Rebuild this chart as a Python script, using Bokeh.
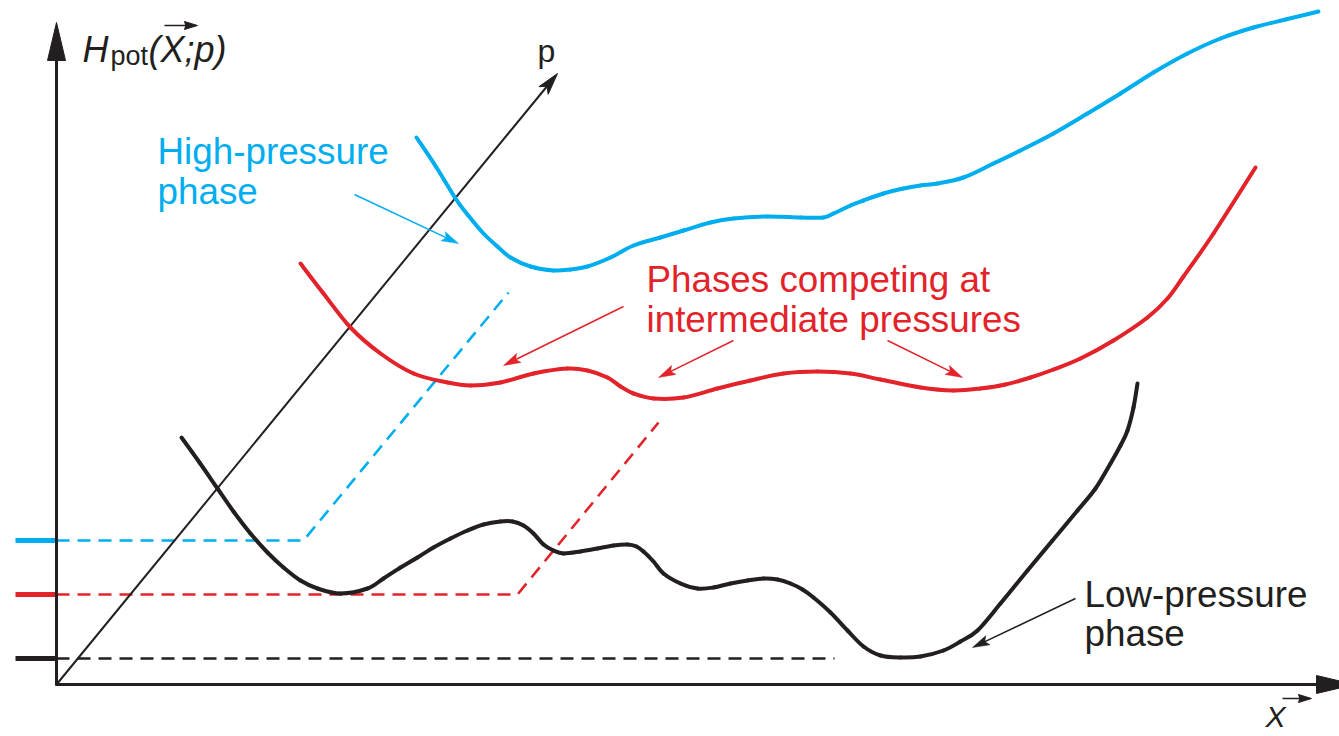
import numpy as np
from bokeh.plotting import figure
from bokeh.models import Range1d
from bokeh.embed import file_html
from bokeh.resources import INLINE
from bokeh.core.properties import value

# ---------------- data (page pixels, y grows downward) -------------
# high-pressure phase enthalpy landscape
blue_x = [416, 436, 455, 467, 483, 497, 510, 530, 553, 570, 587, 610, 633, 660, 683, 710,
          733, 767, 800, 823, 833, 850, 863, 883, 903, 920, 937, 963, 993, 1020, 1053, 1087,
          1120, 1153, 1187, 1220, 1253, 1285, 1318]
blue_y = [137, 167, 198, 214, 233, 246, 257, 266, 270, 269, 266, 257, 245, 237, 230, 222,
          218, 216, 217, 217, 213, 205, 200, 193, 188, 185, 183, 177, 163, 150, 133, 113,
          93, 72, 53, 38, 27, 19, 11]

# phases competing at intermediate pressures
red_x = [300, 323, 350, 380, 413, 447, 470, 500, 533, 567, 587, 607, 620, 633, 653, 683,
         717, 750, 783, 817, 850, 880, 920, 953, 980, 1005, 1030, 1053, 1080, 1113, 1147,
         1167, 1183, 1213, 1255]
red_y = [263, 293, 327, 353, 373, 382, 385, 382, 373, 368, 370, 377, 386, 393, 398, 397,
         388, 380, 373, 371, 373, 379, 387, 390, 388, 384, 377, 369, 358, 340, 317,
         298, 276, 233, 167]

# low-pressure phase
black_x = [181, 199, 217, 233, 250, 267, 283, 300, 317, 340, 367, 383, 400, 417, 433, 450,
           467, 483, 500, 512, 523, 533, 543, 553, 563, 580, 597, 613, 627, 636, 643, 653,
           663, 680, 697, 713, 730, 747, 763, 777, 790, 802, 813, 830, 847, 863, 880, 900,
           920, 943, 960, 977, 1000, 1027, 1052, 1077, 1095, 1110, 1120, 1127, 1133, 1137]
black_y = [437, 462, 488, 511, 533, 552, 567, 580, 588, 593, 588, 578, 567, 557, 547, 538,
           530, 524, 521, 521, 525, 533, 544, 550, 553, 551, 548, 545, 544, 546, 551, 561,
           573, 583, 588, 587, 583, 580, 578, 579, 583, 589, 597, 612, 630, 646, 655, 657,
           656, 650, 641, 630, 603, 570, 540, 510, 488, 463, 445, 430, 407, 383]

# enthalpy levels of the minima and the projection paths
level_names = ["high", "intermediate", "low"]
level_y = [540, 594, 658]
level_break_x = [303, 517, 834]      # where the horizontal dashes end
level_top = [(508, 292), (658, 422), None]  # end of the dashed line parallel to p

BLUE = "#00AEEF"
RED = "#E2232A"
BLACK = "#231F20"
level_colors = [BLUE, RED, BLACK]

ORIGIN = (56, 684)
FONT = value("Liberation Sans")

p = figure(width=1339, height=736, x_range=Range1d(0, 1339), y_range=Range1d(736, 0),
           output_backend="svg", toolbar_location=None, x_axis_type=None, y_axis_type=None,
           min_border=0)
p.outline_line_color = None
p.background_fill_color = "white"
p.border_fill_color = "white"


def head(tip, frm, L, W, notch=0.0):
    tip = np.array(tip, float)
    d = tip - np.array(frm, float)
    d /= np.hypot(*d)
    n = np.array([-d[1], d[0]])
    b = tip - d * L
    pts = [tip, b + n * W / 2, tip - d * L * (1 - notch), b - n * W / 2]
    return [q[0] for q in pts], [q[1] for q in pts]


def smooth_curve(xs, ys, color, width):
    """Draw a smooth curve through the data points with Bokeh's bezier glyph
    (Catmull-Rom tangents give the control handles)."""
    P = np.column_stack([xs, ys]).astype(float)
    Pm = np.vstack([P[0], P[:-1]])          # previous
    Pn = np.vstack([P[1:], P[-1]])          # next
    T = (Pn - Pm) / 6.0
    a, b = P[:-1], P[1:]
    c0 = a + T[:-1]
    c1 = b - T[1:]
    p.bezier(x0=a[:, 0], y0=a[:, 1], x1=b[:, 0], y1=b[:, 1],
             cx0=c0[:, 0], cy0=c0[:, 1], cx1=c1[:, 0], cy1=c1[:, 1],
             line_color=color, line_width=width, line_cap="round")


def label(x, y, t, color, size, style="normal"):
    # y is the visual baseline; compensate for the renderer's baseline offset
    p.text([x], [y - 0.3 * size], text=[t], text_color=color, text_font=FONT,
           text_font_size=f"{size}px", text_font_style=style,
           text_baseline="alphabetic", text_align="left")


# ---------------- level lines ----------------
for ly, bx, top, c in zip(level_y, level_break_x, level_top, level_colors):
    xs = [ORIGIN[0], bx]
    ys = [ly, ly]
    if top is not None:
        xs.append(top[0]); ys.append(top[1])
    p.line(xs, ys, line_color=c, line_width=2.6, line_dash="13 8")
    p.line([15, ORIGIN[0]], [ly, ly], line_color=c, line_width=5)

# ---------------- axes ----------------
p.line([ORIGIN[0], ORIGIN[0]], [ORIGIN[1] + 1, 55], line_color=BLACK, line_width=3)
hx, hy = head((56, 22), ORIGIN, 38, 18)
p.patch(hx, hy, fill_color=BLACK, line_color=BLACK)

p.line([ORIGIN[0] - 1, 1325], [ORIGIN[1], ORIGIN[1]], line_color=BLACK, line_width=3)
hx, hy = head((1354, 684), ORIGIN, 38, 18)
p.patch(hx, hy, fill_color=BLACK, line_color=BLACK)

p.line([ORIGIN[0], 548], [ORIGIN[1], 84], line_color=BLACK, line_width=2)
hx, hy = head((557, 73), ORIGIN, 22, 12, 0.25)
p.patch(hx, hy, fill_color=BLACK, line_color=BLACK)

# ---------------- curves ----------------
smooth_curve(blue_x, blue_y, BLUE, 4)
smooth_curve(red_x, red_y, RED, 4)
smooth_curve(black_x, black_y, BLACK, 4)

# ---------------- annotation arrows ----------------
arrows = [((354, 194), (458, 243), BLUE),
          ((623, 306), (503, 365), RED),
          ((733, 340), (658, 377), RED),
          ((887, 340), (962, 377), RED),
          ((1075, 598), (972, 647), BLACK)]
for s, t, c in arrows:
    d = np.array(t, float) - np.array(s, float)
    d /= np.hypot(*d)
    e = np.array(t, float) - d * 12
    p.line([s[0], e[0]], [s[1], e[1]], line_color=c, line_width=1.5)
    hx, hy = head(t, s, 17, 10, 0.2)
    p.patch(hx, hy, fill_color=c, line_color=c, line_width=0.5)

# ---------------- texts ----------------
labels = [("High-pressure", 157, 162, BLUE), ("phase", 157, 202, BLUE),
          ("Phases competing at", 646, 290, RED), ("intermediate pressures", 646, 330, RED),
          ("Low-pressure", 1084, 605, BLACK), ("phase", 1084, 644, BLACK)]
for t, x, y, c in labels:
    label(x, y, t, c, 36.8)

label(537, 60, "p", BLACK, 32)

# H_pot(X;p)
label(82, 60, "H", BLACK, 36, "italic")
label(110, 64, "pot", BLACK, 27)
label(148, 60, "(X;p)", BLACK, 36, "italic")
p.line([164, 186], [25, 25], line_color=BLACK, line_width=1.5)
hx, hy = head((197, 25), (164, 25), 13, 8, 0.1)
p.patch(hx, hy, fill_color=BLACK, line_color=BLACK)

# X label (kept fully inside the page)
label(1265, 725, "X", BLACK, 30, "italic")
p.line([1282, 1300], [698, 698], line_color=BLACK, line_width=1.5)
hx, hy = head((1311, 698), (1282, 698), 13, 8, 0.1)
p.patch(hx, hy, fill_color=BLACK, line_color=BLACK)

open("out.html", "w").write(file_html(p, INLINE))
